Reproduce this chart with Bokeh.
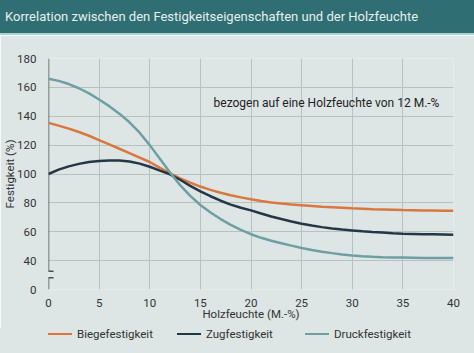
from bokeh.plotting import figure
from bokeh.models import Div, Label, FixedTicker, Range1d
from bokeh.layouts import column
from bokeh.embed import file_html
from bokeh.resources import INLINE

title_text = "Korrelation zwischen den Festigkeitseigenschaften und der Holzfeuchte"
note_text = "bezogen auf eine Holzfeuchte von 12 M.-%"
x_label = "Holzfeuchte (M.-%)"
y_label = "Festigkeit (%)"

x_vals = list(range(0, 41))
biege = [135.4, 133.5, 131.4, 129.1, 126.5, 123.5, 120.5, 117.5, 114.5, 111.4,
         108.3, 104.3, 100.5, 97.0, 94.0, 91.3, 89.0, 87.0, 85.3, 83.8,
         82.5, 81.3, 80.3, 79.5, 78.9, 78.4, 77.9, 77.4, 77.0, 76.6,
         76.2, 75.9, 75.6, 75.4, 75.2, 75.0, 74.9, 74.8, 74.7, 74.6, 74.5]
zug = [100.0, 103.0, 105.3, 107.0, 108.3, 109.0, 109.4, 109.3, 108.7, 107.2,
       105.0, 102.3, 99.8, 96.0, 91.8, 88.0, 84.6, 81.5, 78.8, 76.6,
       74.8, 72.6, 70.6, 68.8, 67.1, 65.6, 64.3, 63.2, 62.3, 61.5,
       60.9, 60.3, 59.8, 59.4, 59.0, 58.7, 58.5, 58.3, 58.2, 58.1, 58.0]
druck = [166.0, 164.5, 162.3, 159.4, 155.8, 151.6, 147.0, 141.8, 135.8, 128.6,
         120.0, 110.5, 101.0, 92.3, 84.8, 78.5, 73.3, 68.8, 64.8, 61.3,
         58.3, 55.8, 53.8, 52.0, 50.4, 48.8, 47.4, 46.2, 45.2, 44.3,
         43.6, 43.1, 42.7, 42.4, 42.2, 42.1, 42.0, 41.9, 41.9, 41.8, 41.8]

series_names = ["Biegefestigkeit", "Zugfestigkeit", "Druckfestigkeit"]
x_ticks = [0, 5, 10, 15, 20, 25, 30, 35, 40]
y_ticks = [20, 40, 60, 80, 100, 120, 140, 160, 180]
y_tick_labels = {20: "0"}
break_low, break_high = 28.1, 32.6
legend_left_px = [48, 177, 305]

BG = "#dde6e4"
FONT = "Roboto"
colors = ["#d9773f", "#243746", "#6e9fa3"]

title_div = Div(text=title_text, width=474, height=35, margin=(0, 0, 0, 0),
                styles={"background-color": "#2f6e73", "color": "#e6efee",
                        "font-family": FONT, "font-size": "13px", "padding-left": "5px",
                        "box-sizing": "border-box", "line-height": "33px",
                        "border-bottom": "2px solid #a9d2d1", "white-space": "nowrap",
                        "overflow": "hidden"})

p = figure(width=474, height=293, output_backend="svg", toolbar_location=None,
           x_range=Range1d(0, 40), y_range=Range1d(20, 180), margin=(0, 0, 0, 0),
           min_border_left=48, min_border_right=21, min_border_top=23, min_border_bottom=39)
p.background_fill_color = BG
p.border_fill_color = BG
p.outline_line_color = None

p.xaxis.ticker = FixedTicker(ticks=x_ticks)
p.yaxis.ticker = FixedTicker(ticks=y_ticks)
p.yaxis.major_label_overrides = y_tick_labels
for ax in (p.xaxis[0], p.yaxis[0]):
    ax.axis_line_color = None
    ax.major_tick_line_color = None
    ax.minor_tick_line_color = None
    ax.major_label_text_font = FONT
    ax.major_label_text_font_size = "11.5px"
    ax.major_label_text_color = "#333333"
    ax.axis_label_text_font = FONT
    ax.axis_label_text_font_size = "11.5px"
    ax.axis_label_text_font_style = "normal"
    ax.axis_label_text_color = "#333333"
p.xaxis.axis_label = x_label
p.yaxis.axis_label = y_label
p.xaxis.major_label_standoff = 3
p.xaxis.axis_label_standoff = -3
p.yaxis.major_label_standoff = 6
p.yaxis.axis_label_standoff = -3

p.xgrid.grid_line_color = "#b5c2c0"
p.ygrid.grid_line_color = "#b5c2c0"

# broken y axis line
axis_col = "#4a4f52"
p.segment(x0=[0, 0], y0=[break_high, 20], x1=[0, 0], y1=[180, break_low],
          line_color=axis_col, line_width=1.5)
p.segment(x0=[-0.4, -0.4], y0=[break_high, break_low], x1=[0.5, 0.5], y1=[break_high, break_low],
          line_color=axis_col, line_width=1.5)

for ys, c in zip([biege, zug, druck], colors):
    p.line(x_vals, ys, line_color=c, line_width=2.5)

p.add_layout(Label(x=16.3, y=149, text=note_text, text_font=FONT, text_font_size="12px",
                   text_color="#222222", text_baseline="middle"))

items_html = "".join(
    f'<div style="position:absolute;left:{lx}px;top:0px;height:12px;display:flex;align-items:center;white-space:nowrap">'
    f'<span style="display:inline-block;width:24px;height:2.5px;background:{c};margin-right:5px"></span>'
    f'<span>{n}</span></div>'
    for lx, c, n in zip(legend_left_px, colors, series_names))
legend_div = Div(text=f'<div style="position:relative;width:474px;height:25px">{items_html}</div>',
                 width=474, height=25, margin=(0, 0, 0, 0),
                 styles={"background-color": BG, "color": "#333333", "font-family": FONT,
                         "font-size": "11.5px", "overflow": "hidden"})

layout = column(title_div, p, legend_div, spacing=0)
open("out.html", "w").write(file_html(layout, INLINE))
